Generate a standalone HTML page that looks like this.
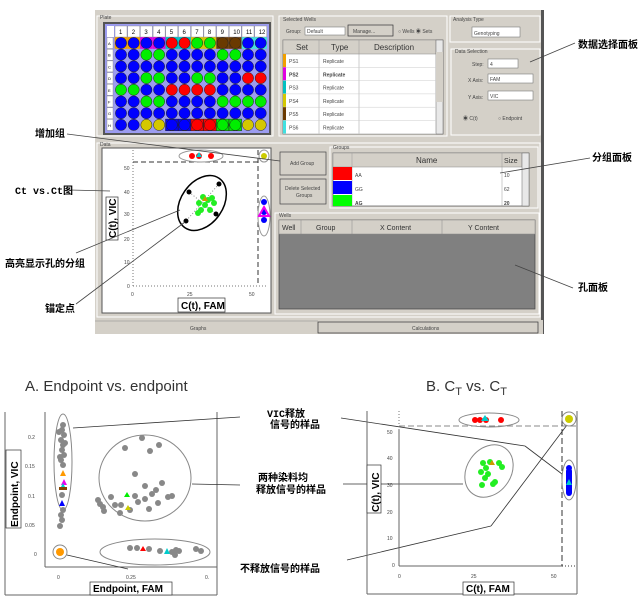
<!DOCTYPE html>
<html><head><meta charset="utf-8"><style>
html,body{margin:0;padding:0;background:#fff;width:643px;height:610px;overflow:hidden}
svg{display:block}
text{font-family:"Liberation Sans","Noto Sans CJK SC",sans-serif}
.cn{font-family:"Liberation Sans","Noto Sans CJK SC",sans-serif;font-weight:bold;font-size:10px}
.s{font-size:6px;fill:#222}
.t{font-size:5px;fill:#444}
</style></head><body>
<svg id="sv" width="643" height="610" viewBox="0 0 643 610" xmlns="http://www.w3.org/2000/svg">
<!-- window -->
<rect x="95" y="10" width="448" height="324" fill="#d4d0c8"/>
<rect x="541" y="10" width="3" height="324" fill="#555"/>
<rect x="97" y="16" width="176" height="120" fill="none" stroke="#fff" stroke-width="1"/>
<text x="100" y="19" class="t">Plate</text>
<rect x="104" y="23" width="166" height="111" fill="#9c9cf0" stroke="#555" stroke-width="2"/>
<g id="plate"></g>
<!-- selected wells -->
<rect x="279" y="16" width="168" height="120" fill="none" stroke="#fff"/>
<text x="283" y="21" class="t">Selected Wells</text>
<text x="286" y="33" class="t">Group:</text>
<rect x="305" y="27" width="40" height="8" fill="#fff" stroke="#666" stroke-width=".5"/>
<text x="307" y="33" class="t">Default</text>
<rect x="348" y="25" width="45" height="11" fill="#d4d0c8" stroke="#333" stroke-width=".7"/>
<text x="353" y="33" class="t">Manage...</text>
<text x="398" y="33" class="t">○ Wells ◉ Sets</text>
<rect x="283" y="40" width="160" height="94" fill="#fff" stroke="#666" stroke-width=".7"/>
<rect x="283" y="40" width="153" height="14" fill="#d4d0c8" stroke="#888" stroke-width=".5"/>
<line x1="319" y1="40" x2="319" y2="134" stroke="#999" stroke-width=".5"/>
<line x1="359" y1="40" x2="359" y2="134" stroke="#999" stroke-width=".5"/>
<text x="296" y="50" style="font-size:8px;fill:#333">Set</text>
<text x="331" y="50" style="font-size:8px;fill:#333">Type</text>
<text x="374" y="50" style="font-size:8px;fill:#333">Description</text>
<rect x="436" y="40" width="7" height="94" fill="#e8e8e8" stroke="#666" stroke-width=".5"/>
<rect x="436" y="52" width="7" height="50" fill="#d4d0c8"/>
<g id="sets"></g>
<!-- analysis -->
<rect x="450" y="16" width="90" height="26" fill="none" stroke="#fff"/>
<text x="453" y="21" class="t">Analysis Type</text>
<rect x="472" y="27" width="48" height="10" fill="#fff" stroke="#666" stroke-width=".5"/>
<text x="474" y="35" class="t">Genotyping</text>
<rect x="451" y="49" width="89" height="86" fill="none" stroke="#fff"/>
<text x="455" y="53" class="t">Data Selection</text>
<text x="472" y="66" class="t">Step:</text><rect x="488" y="59" width="30" height="9" fill="#fff" stroke="#666" stroke-width=".5"/><text x="490" y="66" class="t">4</text>
<text x="468" y="82" class="t">X Axis:</text><rect x="488" y="74" width="45" height="9" fill="#fff" stroke="#666" stroke-width=".5"/><text x="490" y="81" class="t">FAM</text>
<text x="468" y="99" class="t">Y Axis:</text><rect x="488" y="91" width="45" height="9" fill="#fff" stroke="#666" stroke-width=".5"/><text x="490" y="98" class="t">VIC</text>
<text x="463" y="120" class="t">◉ C(t)</text><text x="498" y="120" class="t">○ Endpoint</text>
<!-- data area -->
<rect x="97" y="143" width="443" height="174" fill="none" stroke="#fff"/>
<text x="100" y="146" class="t">Data</text>
<rect x="102" y="148" width="169" height="165" fill="#fff" stroke="#555"/>
<line x1="133" y1="150" x2="133" y2="286" stroke="#777" stroke-dasharray="1,2"/>
<line x1="133" y1="286" x2="268" y2="286" stroke="#777" stroke-dasharray="1,2"/>
<line x1="133" y1="162" x2="258" y2="162" stroke="#333" stroke-dasharray="5,3"/>
<line x1="258" y1="150" x2="258" y2="286" stroke="#333" stroke-dasharray="5,3"/>
<g class="t"><text x="124" y="170">50</text><text x="124" y="194">40</text><text x="124" y="216">30</text><text x="124" y="241">20</text><text x="124" y="264">10</text><text x="127" y="288">0</text>
<text x="131" y="296">0</text><text x="187" y="296">25</text><text x="249" y="296">50</text></g>
<rect x="106" y="197" width="12" height="43" fill="#fff" stroke="#333" stroke-width=".7"/>
<text transform="translate(116,238) rotate(-90)" style="font-size:10px;font-weight:bold">C(t), VIC</text>
<rect x="178" y="298" width="47" height="14" fill="#fff" stroke="#333" stroke-width=".7"/>
<text x="181" y="309" style="font-size:10px;font-weight:bold">C(t), FAM</text>
<ellipse cx="201" cy="156" rx="22" ry="6" fill="none" stroke="#999"/>
<circle cx="192" cy="156" r="3" fill="#f00"/><circle cx="199" cy="156" r="3" fill="#f00"/><circle cx="211" cy="156" r="3" fill="#f00"/>
<polygon points="199,152 202,157 196,157" fill="#0cc"/>
<ellipse cx="264" cy="156" rx="5" ry="6" fill="none" stroke="#999"/><circle cx="264" cy="156" r="3" fill="#cc0"/>
<ellipse cx="264" cy="216" rx="6" ry="20" fill="none" stroke="#999"/>
<circle cx="264" cy="202" r="3" fill="#00f"/><circle cx="264" cy="212" r="3" fill="#00f"/><circle cx="264" cy="220" r="3" fill="#00f"/>
<polygon points="264,207 269,216 259,216" fill="none" stroke="#e0e" stroke-width="2"/>
<ellipse cx="202" cy="203" rx="21" ry="30" transform="rotate(35 202 203)" fill="none" stroke="#000" stroke-width="1.5"/>
<line x1="189" y1="192" x2="216" y2="214" stroke="#888" stroke-dasharray="1,2"/>
<line x1="219" y1="184" x2="186" y2="221" stroke="#888" stroke-dasharray="1,2"/>
<circle cx="189" cy="192" r="2.5"/><circle cx="219" cy="184" r="2.5"/><circle cx="216" cy="214" r="2.5"/><circle cx="186" cy="221" r="2.5"/>
<g fill="#2e2">
<circle cx="203" cy="197" r="3"/><circle cx="208" cy="200" r="3"/><circle cx="212" cy="198" r="3"/><circle cx="214" cy="203" r="3"/><circle cx="199" cy="203" r="3"/><circle cx="205" cy="205" r="3"/><circle cx="210" cy="210" r="3"/><circle cx="198" cy="213" r="3"/><circle cx="201" cy="210" r="3"/></g>
<polygon points="205,196 208,201 202,201" fill="#c90"/>
<rect x="280" y="152" width="46" height="23" fill="#d4d0c8" stroke="#444" stroke-width=".7"/>
<text x="290" y="165" class="t">Add Group</text>
<rect x="280" y="179" width="46" height="25" fill="#d4d0c8" stroke="#444" stroke-width=".7"/>
<text x="285" y="190" class="t">Delete Selected</text><text x="296" y="197" class="t">Groups</text>
<rect x="330" y="147" width="208" height="61" fill="none" stroke="#fff"/>
<text x="333" y="149" class="t">Groups</text>
<rect x="333" y="153" width="196" height="53" fill="#fff" stroke="#555" stroke-width=".7"/>
<rect x="333" y="153" width="189" height="14" fill="#d4d0c8" stroke="#888" stroke-width=".5"/>
<text x="416" y="163" style="font-size:8px;fill:#333">Name</text><text x="504" y="163" style="font-size:7px;fill:#333">Size</text>
<line x1="352" y1="153" x2="352" y2="206" stroke="#999" stroke-width=".5"/><line x1="502" y1="153" x2="502" y2="206" stroke="#999" stroke-width=".5"/>
<rect x="333" y="167" width="19" height="13" fill="#f00"/><rect x="333" y="181" width="19" height="13" fill="#00f"/><rect x="333" y="195" width="19" height="11" fill="#0f0"/>
<text x="355" y="177" class="t">AA</text><text x="504" y="177" class="t">10</text>
<text x="355" y="191" class="t">GG</text><text x="504" y="191" class="t">62</text>
<text x="355" y="205" class="t" style="font-weight:bold">AG</text><text x="504" y="205" class="t" style="font-weight:bold">20</text>
<rect x="522" y="153" width="7" height="53" fill="#e8e8e8" stroke="#666" stroke-width=".5"/>
<rect x="275" y="213" width="264" height="101" fill="none" stroke="#fff"/>
<text x="279" y="217" class="t">Wells</text>
<rect x="279" y="220" width="256" height="89" fill="#808080" stroke="#444" stroke-width=".7"/>
<rect x="279" y="220" width="256" height="14" fill="#d4d0c8" stroke="#888" stroke-width=".5"/>
<line x1="301" y1="220" x2="301" y2="234" stroke="#888" stroke-width=".5"/><line x1="352" y1="220" x2="352" y2="234" stroke="#888" stroke-width=".5"/><line x1="442" y1="220" x2="442" y2="234" stroke="#888" stroke-width=".5"/>
<g style="font-size:7px;fill:#333"><text x="282" y="230">Well</text><text x="316" y="230">Group</text><text x="380" y="230">X Content</text><text x="468" y="230">Y Content</text></g>
<rect x="95" y="320" width="448" height="14" fill="#d4d0c8"/>
<line x1="95" y1="321" x2="318" y2="321" stroke="#888" stroke-width=".5"/>
<text x="190" y="330" class="t">Graphs</text>
<rect x="318" y="322" width="220" height="11" fill="#d4d0c8" stroke="#333" stroke-width=".7"/>
<text x="412" y="330" class="t">Calculations</text>

<!-- top annotations -->
<g stroke="#444" stroke-width=".8" fill="none">
<line x1="67" y1="134" x2="280" y2="161"/>
<line x1="70" y1="190" x2="110" y2="191"/>
<line x1="76" y1="253" x2="180" y2="210"/>
<line x1="76" y1="304" x2="185" y2="222"/>
<line x1="530" y1="62" x2="575" y2="43"/>
<line x1="500" y1="173" x2="590" y2="158"/>
<line x1="515" y1="265" x2="573" y2="288"/>
</g>
<text x="35" y="137" class="cn">增加组</text>
<text x="15" y="194" class="cn" style="font-family:'Liberation Mono','Noto Sans CJK SC',monospace">Ct vs.Ct图</text>
<text x="5" y="267" class="cn">高亮显示孔的分组</text>
<text x="45" y="312" class="cn">锚定点</text>
<text x="578" y="48" class="cn">数据选择面板</text>
<text x="592" y="161" class="cn">分组面板</text>
<text x="578" y="291" class="cn">孔面板</text>

<!-- bottom titles -->
<text x="25" y="391" style="font-size:15px;fill:#333">A. Endpoint vs. endpoint</text>
<text x="426" y="391" style="font-size:15px;fill:#333">B. C<tspan dy="4" style="font-size:11px">T</tspan><tspan dy="-4"> vs. C</tspan><tspan dy="4" style="font-size:11px">T</tspan></text>

<!-- plot A -->
<g stroke="#666" fill="none"><line x1="5" y1="412" x2="5" y2="595"/><line x1="5" y1="595" x2="217" y2="595"/><line x1="217" y1="412" x2="217" y2="595"/>
<line x1="45" y1="412" x2="45" y2="567"/><line x1="45" y1="567" x2="217" y2="567"/></g>
<g class="t"><text x="28" y="439">0.2</text><text x="25" y="468">0.15</text><text x="28" y="498">0.1</text><text x="25" y="527">0.05</text><text x="34" y="556">0</text>
<text x="57" y="579">0</text><text x="126" y="579">0.25</text><text x="205" y="579">0.</text></g>
<rect x="6" y="450" width="15" height="78" fill="#fff" stroke="#333" stroke-width=".7"/>
<text transform="translate(18,527) rotate(-90)" style="font-size:10px;font-weight:bold">Endpoint, VIC</text>
<rect x="90" y="582" width="82" height="13" fill="#fff" stroke="#333" stroke-width=".7"/>
<text x="93" y="592" style="font-size:10px;font-weight:bold">Endpoint, FAM</text>
<g fill="none" stroke="#888"><ellipse cx="63" cy="462" rx="9" ry="48"/><ellipse cx="145" cy="478" rx="46" ry="43"/><ellipse cx="155" cy="552" rx="55" ry="13"/><circle cx="60" cy="552" r="7"/></g>
<circle cx="60" cy="552" r="4" fill="#f90"/>
<g fill="#888" id="gdots"></g>
<polygon points="63,470 66,476 60,476" fill="#f90"/><polygon points="64,479 67,485 61,485" fill="#e0e"/><polygon points="63,483 66,489 60,489" fill="#0cc"/><rect x="59" y="487" width="8" height="3" fill="#840"/><polygon points="62,500 65,506 59,506" fill="#00f"/>
<polygon points="127,492 130,497 124,497" fill="#0e0"/><polygon points="128,505 131,510 125,510" fill="#cc0"/>
<polygon points="143,546 146,551 140,551" fill="#f00"/><polygon points="167,548 170,554 164,554" fill="#0cc"/>
<g stroke="#333" stroke-width=".8" fill="none">
<line x1="73" y1="428" x2="240" y2="417"/><line x1="192" y1="484" x2="240" y2="485"/><line x1="67" y1="555" x2="128" y2="569"/>
<line x1="341" y1="418" x2="525" y2="446"/><line x1="525" y1="446" x2="562" y2="474"/>
<line x1="343" y1="484" x2="463" y2="484"/>
<line x1="347" y1="560" x2="491" y2="526"/><line x1="491" y1="526" x2="567" y2="425"/></g>
<text x="267" y="417" class="cn" style="font-family:'Liberation Mono','Noto Sans CJK SC',monospace">VIC释放</text>
<text x="270" y="428" class="cn">信号的样品</text>
<text x="258" y="481" class="cn">两种染料均</text>
<text x="256" y="493" class="cn">释放信号的样品</text>
<text x="240" y="572" class="cn">不释放信号的样品</text>

<!-- plot B -->
<g stroke="#666" fill="none"><line x1="367" y1="411" x2="367" y2="594"/><line x1="367" y1="594" x2="577" y2="594"/><line x1="577" y1="411" x2="577" y2="594"/>
<line x1="399" y1="430" x2="399" y2="566"/><line x1="399" y1="566" x2="562" y2="566"/></g>
<line x1="399" y1="411" x2="399" y2="430" stroke="#777" stroke-dasharray="1,2"/>
<line x1="562" y1="566" x2="577" y2="566" stroke="#333" stroke-dasharray="1,2"/>
<line x1="399" y1="426" x2="577" y2="426" stroke="#888" stroke-dasharray="6,3"/>
<line x1="562" y1="411" x2="562" y2="566" stroke="#333" stroke-dasharray="6,3"/>
<g class="t"><text x="387" y="434">50</text><text x="387" y="460">40</text><text x="387" y="487">30</text><text x="387" y="514">20</text><text x="387" y="540">10</text><text x="392" y="567">0</text>
<text x="398" y="578">0</text><text x="471" y="578">25</text><text x="551" y="578">50</text></g>
<rect x="367" y="465" width="14" height="48" fill="#fff" stroke="#333" stroke-width=".7"/>
<text transform="translate(379,512) rotate(-90)" style="font-size:10px;font-weight:bold">C(t), VIC</text>
<rect x="463" y="582" width="51" height="13" fill="#fff" stroke="#333" stroke-width=".7"/>
<text x="466" y="592" style="font-size:10px;font-weight:bold">C(t), FAM</text>
<ellipse cx="489" cy="420" rx="30" ry="7" fill="none" stroke="#888"/>
<circle cx="475" cy="420" r="3" fill="#f00"/><circle cx="480" cy="420" r="3" fill="#f00"/><circle cx="486" cy="420" r="3" fill="#f00"/><circle cx="501" cy="420" r="3" fill="#f00"/>
<polygon points="485,415 489,421 481,421" fill="#0cc"/>
<circle cx="569" cy="419" r="7" fill="none" stroke="#888"/><circle cx="569" cy="419" r="4" fill="#cc0"/>
<ellipse cx="489" cy="471" rx="22" ry="28" transform="rotate(35 489 471)" fill="none" stroke="#888"/>
<g fill="#2e2"><circle cx="483" cy="463" r="3"/><circle cx="490" cy="462" r="3"/><circle cx="486" cy="468" r="3"/><circle cx="481" cy="472" r="3"/><circle cx="488" cy="474" r="3"/><circle cx="485" cy="478" r="3"/><circle cx="499" cy="463" r="3"/><circle cx="502" cy="467" r="3"/><circle cx="495" cy="482" r="3"/><circle cx="493" cy="484" r="3"/><circle cx="482" cy="485" r="3"/></g>
<polygon points="492,460 495,465 489,465" fill="#c90"/>
<ellipse cx="569" cy="480" rx="7" ry="20" fill="none" stroke="#888"/>
<rect x="566" y="468" width="6" height="28" rx="3" fill="#00f"/><circle cx="569" cy="468" r="3" fill="#00f"/>
<polygon points="569,479 572,485 566,485" fill="#0cc"/>
</svg>
<script>
(function(){
var ns="http://www.w3.org/2000/svg",P=document.getElementById('plate'),sv=document.getElementById('sv');
function el(t,a,p){var e=document.createElementNS(ns,t);for(var k in a)e.setAttribute(k,a[k]);(p||P).appendChild(e);return e;}
var C={b:"#0000ff",g:"#00ee00",r:"#ff0000",y:"#d4c800",n:"#6a3a00"};
var rows=["bbbbrrggnnbb","bbggbbbbggbb","bbbbbbbbbbbb","bbggbbggbbrr","ggbbrrrrbbbb","bbggbbbbgggg","bbbbbbbbbbbb","bbyybbrrggyy"];
var sq=["#f0a000","#f0a000","#e000e0","#e000e0","#00c0c0","#00c0c0","#d4c800","#d4c800","#6a3a00","#6a3a00","#40e0e0","#40e0e0"];
var hsq={4:"#0000ff",5:"#0000ff",6:"#ff0000",7:"#ff0000",8:"#00ee00",9:"#00ee00"};
el('rect',{x:107,y:26,width:7,height:11,fill:"#fff"});
for(var c=0;c<12;c++){var x=121+c*12.7;
el('rect',{x:x-6,y:26,width:12,height:11,fill:"#fff",stroke:"#888","stroke-width":.4});
var t=el('text',{x:x-2,y:34,style:"font-size:6px"});t.textContent=c+1;}
var L="ABCDEFGH";
for(var r=0;r<8;r++){var y=43+r*11.7;
el('rect',{x:107,y:y-5.5,width:6,height:11,fill:"#fff",stroke:"#888","stroke-width":.4});
var tt=el('text',{x:108,y:y+2,style:"font-size:4px"});tt.textContent=L[r];
for(var c=0;c<12;c++){var x=121+c*12.7;
if(r==0)el('rect',{x:x-6.3,y:y-5.8,width:12.6,height:11.6,fill:sq[c]});
if(r==7&&hsq[c])el('rect',{x:x-6.3,y:y-5.8,width:12.6,height:11.6,fill:hsq[c],stroke:"#222","stroke-width":.5});
el('circle',{cx:x,cy:y,r:5.6,fill:C[rows[r][c]],stroke:"#222","stroke-width":.5});}}
var S=document.getElementById('sets');var sc=["#f0a000","#e000e0","#00c0c0","#d4c800","#6a3a00","#40e0e0"];
for(var i=0;i<6;i++){var y=54+i*13.3;
el('rect',{x:283,y:y,width:3,height:13,fill:sc[i]},S);
el('line',{x1:283,y1:y+13.3,x2:436,y2:y+13.3,stroke:"#ccc","stroke-width":.5},S);
var a=el('text',{x:289,y:y+9,style:"font-size:5px;fill:#444"+(i==1?";font-weight:bold":"")},S);a.textContent="PS"+(i+1);
var b=el('text',{x:323,y:y+9,style:"font-size:5px;fill:#444"+(i==1?";font-weight:bold":"")},S);b.textContent="Replicate";}
var G=document.getElementById('gdots');
var pts=[[63,425],[62,430],[64,435],[61,440],[63,445],[62,450],[64,455],[61,460],[63,465],[62,495],[63,510],[61,515],[62,520],[60,526],[59,432],[65,443],[60,457],
[142,438],[125,448],[150,451],[159,445],[98,500],[100,504],[103,507],[104,511],[115,505],[111,497],[121,505],[135,496],[145,499],[152,494],[145,486],[156,490],[162,483],[120,513],[130,510],[138,502],[149,509],[158,503],[168,497],[172,496],[135,474],
[137,548],[149,549],[130,548],[160,551],[172,552],[176,550],[179,551],[196,549],[201,551],[175,555]];
pts.forEach(function(p){el('circle',{cx:p[0],cy:p[1],r:3},G);});
})();
</script>
</body></html>
